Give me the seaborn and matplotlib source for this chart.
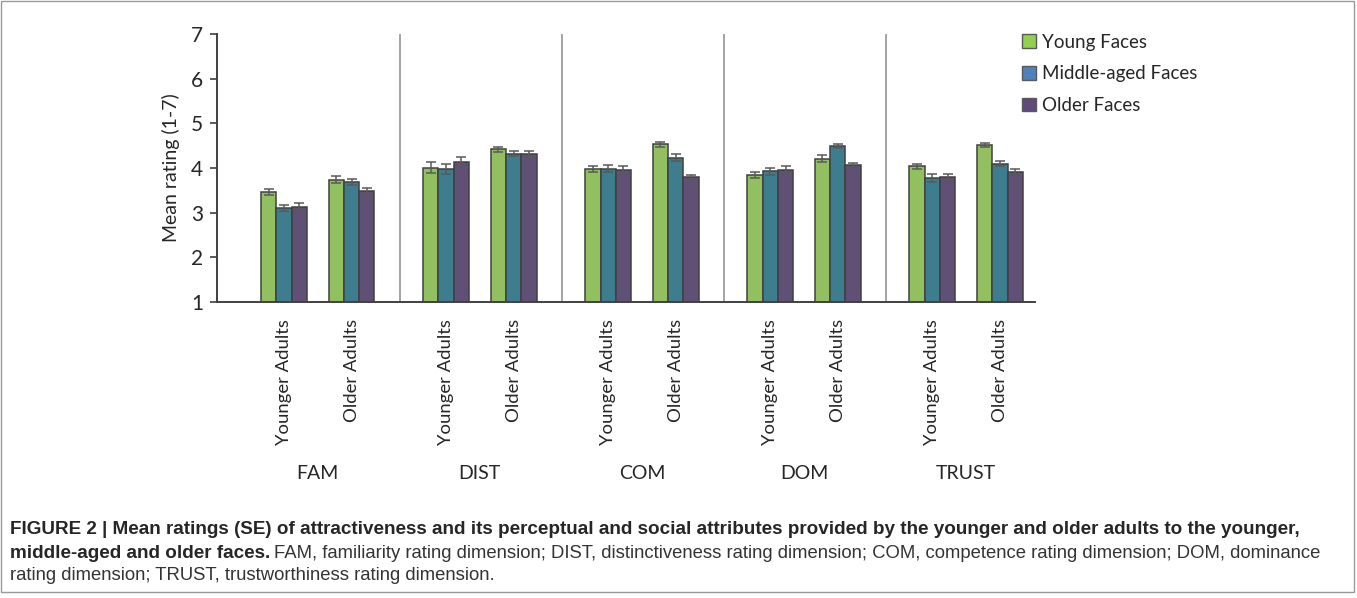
import numpy as np
import pandas as pd
import matplotlib
matplotlib.use("Agg")
import matplotlib.pyplot as plt
import matplotlib.patches as mpatches
import seaborn as sns

# Rating dimensions, rater groups and face age groups
dimensions = ["FAM", "DIST", "COM", "DOM", "TRUST"]
raters = ["Younger Adults", "Older Adults"]
faces = ["Young Faces", "Middle-aged Faces", "Older Faces"]

# Mean ratings, rows = dimension x rater, cols = face group
means = [
    [3.47, 3.10, 3.13], [3.74, 3.69, 3.48],   # FAM
    [4.01, 3.97, 4.14], [4.42, 4.32, 4.31],   # DIST
    [3.98, 3.98, 3.95], [4.53, 4.23, 3.79],   # COM
    [3.85, 3.93, 3.96], [4.21, 4.49, 4.07],   # DOM
    [4.04, 3.77, 3.79], [4.51, 4.10, 3.91],   # TRUST
]
# Standard errors
ses = [
    [0.07, 0.07, 0.08], [0.07, 0.07, 0.07],
    [0.12, 0.11, 0.10], [0.06, 0.06, 0.06],
    [0.07, 0.08, 0.09], [0.06, 0.08, 0.06],
    [0.07, 0.08, 0.08], [0.07, 0.05, 0.05],
    [0.06, 0.09, 0.08], [0.05, 0.05, 0.06],
]

bar_colors = ["#92D050", "#31849B", "#604A7B"]
legend_colors = ["#92D050", "#4F81BD", "#604A7B"]

# long table; x position: 12 units per dimension, 5 between raters
rows = []
for i, (m, s) in enumerate(zip(means, ses)):
    d, r = divmod(i, 2)
    for k, f in enumerate(faces):
        rows.append({"pos": d * 12 + r * 5, "dim": dimensions[d], "rater": raters[r],
                     "face": f, "mean": m[k], "se": s[k]})
df = pd.DataFrame(rows)

sns.set_style("white")
plt.rcParams["font.family"] = ["Lato", "DejaVu Sans"]

fig = plt.figure(figsize=(13.57, 5.98), dpi=100)
ax = fig.add_axes([217 / 1357, 1 - 302 / 598, (1035 - 217) / 1357, 268 / 598])

sns.barplot(data=df, x="pos", y="mean", hue="face", hue_order=faces, palette=bar_colors,
            native_scale=True, width=0.68, gap=0, errorbar=None, edgecolor="#404040",
            linewidth=1.1, legend=False, ax=ax)

# error bars at the centres of the drawn bars
for k, face in enumerate(faces):
    sub = df[df["face"] == face]
    bars = ax.containers[k]
    xs = [b.get_x() + b.get_width() / 2 for b in bars]
    ax.errorbar(xs, sub["mean"], yerr=sub["se"], fmt="none", ecolor="#595959",
                elinewidth=1.1, capsize=3.5, capthick=1.1, zorder=5)

ax.set_ylim(1, 7)
ax.set_xlim(-4.96, 55.6)
ax.set_yticks(range(1, 8))
ax.tick_params(axis="y", labelsize=15, length=5, width=1.2, color="#404040", direction="out", left=True, pad=5)
ax.set_ylabel("Mean rating (1-7)", fontsize=14, labelpad=8)
ax.set_xlabel("")

# rater labels under each cluster
ticks = sorted(df["pos"].unique())
ax.set_xticks(ticks)
ax.set_xticklabels(raters * len(dimensions), rotation=90, fontsize=13.3)
ax.tick_params(axis="x", length=0, pad=12)

# dimension labels and separators
for d, name in enumerate(dimensions):
    ax.text(d * 12 + 2.5, -0.64, name, transform=ax.get_xaxis_transform(),
            ha="center", va="center", fontsize=14)
    if d > 0:
        ax.axvline(d * 12 - 3.4, color="#8c8c8c", lw=1.1, zorder=0)

for side in ["top", "right"]:
    ax.spines[side].set_visible(False)
for side in ["left", "bottom"]:
    ax.spines[side].set_color("#404040")
    ax.spines[side].set_linewidth(1.4)

handles = [mpatches.Patch(facecolor=c, edgecolor="#595959", label=f) for c, f in zip(legend_colors, faces)]
fig.legend(handles=handles, loc="upper left", bbox_to_anchor=(1005 / 1357, 1 - 17 / 598),
           frameon=False, fontsize=13.5, handlelength=0.75, handleheight=0.75,
           handletextpad=0.35, labelspacing=0.78)

# caption
cap_font = ["Liberation Sans Narrow", "Liberation Sans", "DejaVu Sans"]
fig.text(10 / 1357, 1 - 529 / 598,
         "FIGURE 2 | Mean ratings (SE) of attractiveness and its perceptual and social attributes provided by the younger and older adults to the younger,",
         fontsize=13.6, fontweight="bold", family=cap_font, va="center")
t_bold = fig.text(10 / 1357, 1 - 553 / 598, "middle-aged and older faces.", fontsize=13.6,
                  fontweight="bold", family=cap_font, va="center")
fig.canvas.draw()
bb = t_bold.get_window_extent(fig.canvas.get_renderer())
fig.text((bb.x1 + 4) / 1357, 1 - 553 / 598,
         "FAM, familiarity rating dimension; DIST, distinctiveness rating dimension; COM, competence rating dimension; DOM, dominance",
         fontsize=13.3, family=cap_font, color="#333333", va="center")
fig.text(10 / 1357, 1 - 576 / 598, "rating dimension; TRUST, trustworthiness rating dimension.",
         fontsize=13.3, family=cap_font, color="#333333", va="center")

# thin frame around figure
fig.patches.append(mpatches.Rectangle((1 / 1357, 6 / 598), 1353 / 1357, 591 / 598,
                                      transform=fig.transFigure, fill=False,
                                      edgecolor="#9a9a9a", lw=1))

fig.savefig("out.png", dpi=100)
